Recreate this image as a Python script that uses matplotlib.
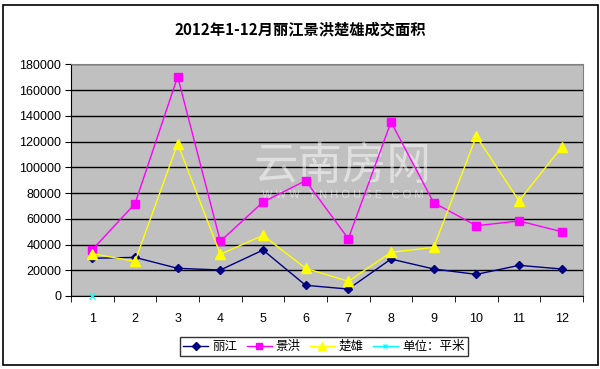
import matplotlib
matplotlib.use("Agg")
import matplotlib.pyplot as plt
from matplotlib.patches import Rectangle

plt.rcParams['font.family'] = ['Liberation Sans', 'Noto Sans CJK SC', 'DejaVu Sans']

months = [1, 2, 3, 4, 5, 6, 7, 8, 9, 10, 11, 12]
month_labels = [str(m) for m in months]
lijiang = [29300, 30000, 21500, 20200, 35700, 8300, 5400, 28700, 21000, 16800, 23800, 21000]
jinghong = [36000, 71700, 170400, 42500, 73000, 89600, 44500, 135200, 72500, 54600, 58300, 50000]
chuxiong = [32900, 26900, 118300, 32400, 47100, 21500, 11400, 33900, 37800, 124000, 74000, 115500]
unit_x = [1]
unit_vals = [0]
series_names = ['丽江', '景洪', '楚雄', '单位：平米']
title = '2012年1-12月丽江景洪楚雄成交面积'
yticks = [0, 20000, 40000, 60000, 80000, 100000, 120000, 140000, 160000, 180000]

fig = plt.figure(figsize=(6.0, 3.69), dpi=100)
fig.patch.set_facecolor('white')
# chart border
fig.add_artist(Rectangle((2.5/600, 1 - 365/369), 595/600, 360/369,
                         transform=fig.transFigure, fill=False, edgecolor='black', lw=1.2))

ax = fig.add_axes([71/600, 1 - 296/369, 512/600, (296 - 64.3)/369])
ax.set_facecolor('#C0C0C0')

ax.plot(months, lijiang, color='#000080', marker='D', markersize=4.5, lw=1, label=series_names[0], zorder=5)
ax.plot(months, jinghong, color='#FF00FF', marker='s', markersize=5.5, lw=1, label=series_names[1], zorder=5)
ax.plot(months, chuxiong, color='#FFFF00', marker='^', markersize=7, lw=1, label=series_names[2], zorder=5)
ax.plot(unit_x, unit_vals, color='#00FFFF', marker='x', markersize=4, lw=1, label=series_names[3], zorder=6, clip_on=False)

ax.set_xlim(0.5, 12.5)
ax.set_ylim(0, 180000)
ax.set_yticks(yticks)
ax.set_yticklabels([str(v) for v in yticks], fontsize=9)
ax.set_xticks(months)
ax.set_xticklabels(month_labels, fontsize=9)
ax.set_xticks([m + 0.5 for m in range(0, 13)], minor=True)
ax.tick_params(axis='x', which='major', length=0, pad=12)
ax.tick_params(axis='x', which='minor', length=4, direction='out', color='black')
ax.tick_params(axis='y', length=4, direction='out', color='black', pad=3)
ax.yaxis.grid(True, color='black', lw=1)
ax.set_axisbelow(True)
for s in ['top', 'right']:
    ax.spines[s].set_color('#808080')
for s in ['left', 'bottom']:
    ax.spines[s].set_color('black')

# watermark
ax.text(0.53, 0.56, '云南房网', transform=ax.transAxes, ha='center', va='center',
        fontsize=32, color='white', alpha=0.5, family=['Noto Sans CJK SC'], zorder=2)
ax.text(0.53, 0.435, 'W W W . Y N H O U S E . C O M', transform=ax.transAxes, ha='center', va='center',
        fontsize=8, color='white', alpha=0.5, zorder=2)

fig.text(0.5, 1 - 29/369, title, ha='center', va='center', fontsize=11, fontweight='bold',
         family=['Noto Sans CJK SC', 'DejaVu Sans'])

leg = fig.legend(loc='center', bbox_to_anchor=(324/600, 1 - 346.5/369), ncol=4, frameon=True,
                 fancybox=False, edgecolor='black', handlelength=2.0, columnspacing=0.7,
                 handletextpad=0.35, borderpad=0.25, markerscale=0.8,
                 prop={'family': ['Noto Sans CJK SC'], 'size': 9})
leg.get_frame().set_linewidth(1)

fig.savefig('out.png', dpi=100)
